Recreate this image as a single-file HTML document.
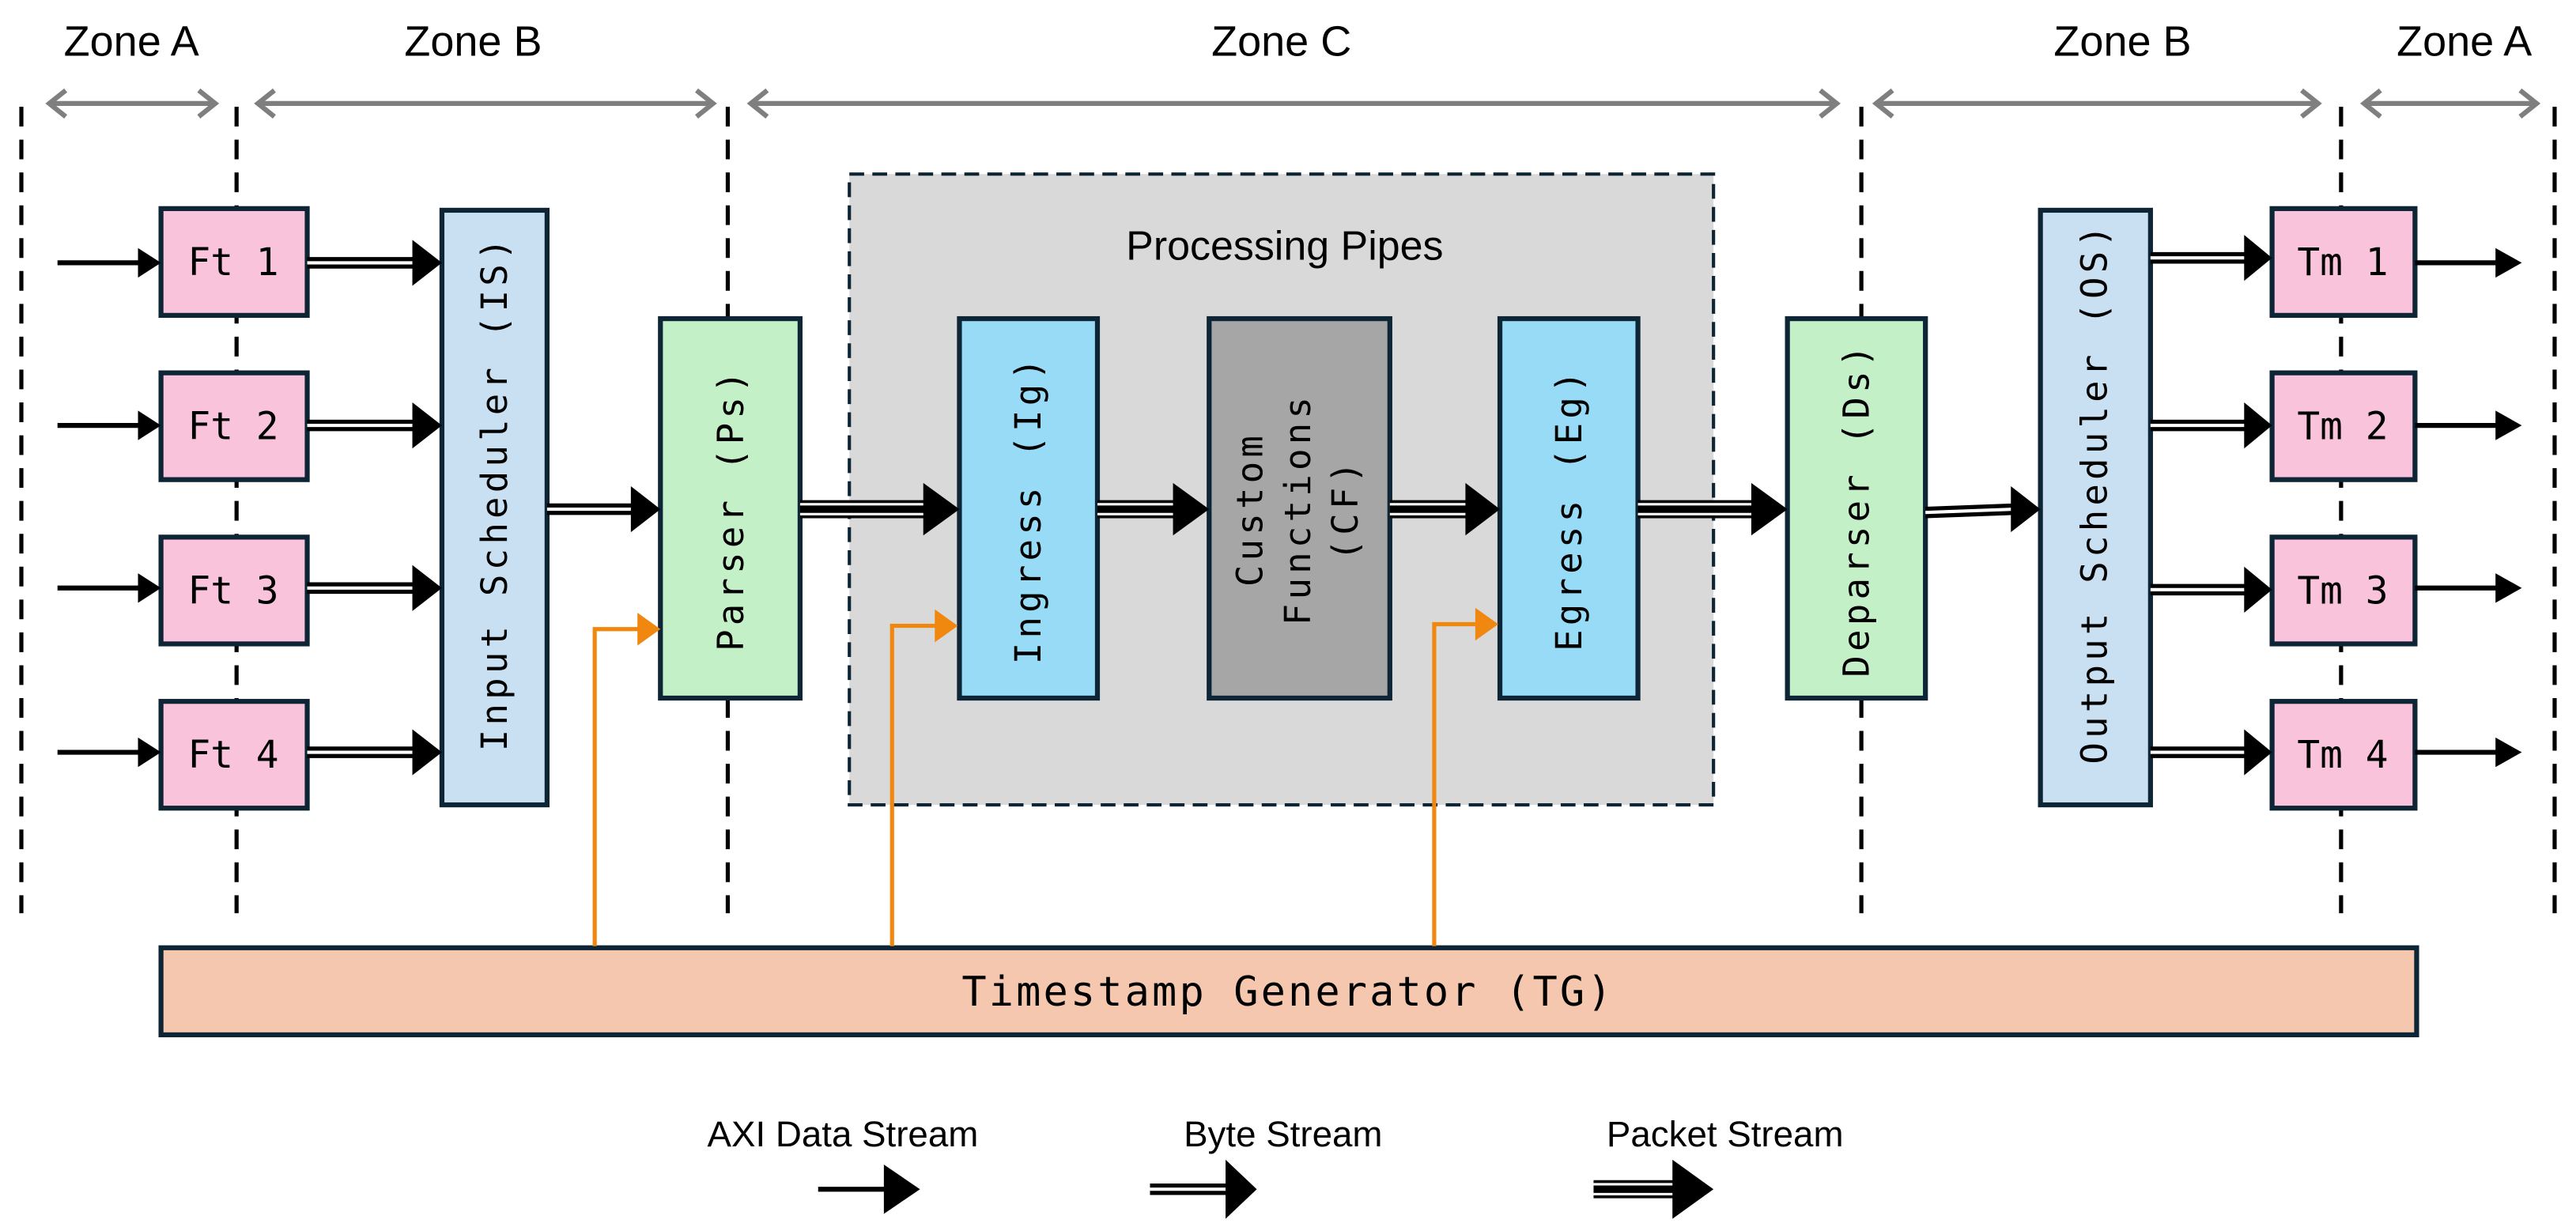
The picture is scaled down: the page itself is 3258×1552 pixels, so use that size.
<!DOCTYPE html>
<html><head><meta charset="utf-8"><style>
html,body{margin:0;padding:0;background:#fff;}
svg{display:block;}
.z{font-family:"Liberation Sans Narrow","Liberation Sans",sans-serif;font-size:26px;fill:#000;text-anchor:middle;}
.m{font-family:"DejaVu Sans Mono","Liberation Mono",monospace;font-size:23px;fill:#000;text-anchor:middle;dominant-baseline:central;}
.r{font-family:"DejaVu Sans Mono","Liberation Mono",monospace;font-size:22px;fill:#000;text-anchor:middle;dominant-baseline:central;letter-spacing:2.5px;}
.box{stroke:#0d2535;stroke-width:3;}
</style></head><body>
<svg width="3258" height="1552" viewBox="0 0 1568 747" preserveAspectRatio="none" xmlns="http://www.w3.org/2000/svg">
<text class="z" x="80" y="34">Zone A</text>
<text class="z" x="288" y="34">Zone B</text>
<text class="z" x="780" y="34">Zone C</text>
<text class="z" x="1292" y="34">Zone B</text>
<text class="z" x="1500" y="34">Zone A</text>
<g stroke="#7f7f7f" stroke-width="3" fill="none">
<line x1="30" y1="63" x2="131" y2="63"/><path d="M40,55 L30,63 L40,71 M121,55 L131,63 L121,71"/>
<line x1="157" y1="63" x2="434" y2="63"/><path d="M167,55 L157,63 L167,71 M424,55 L434,63 L424,71"/>
<line x1="457" y1="63" x2="1118" y2="63"/><path d="M467,55 L457,63 L467,71 M1108,55 L1118,63 L1108,71"/>
<line x1="1142" y1="63" x2="1411" y2="63"/><path d="M1152,55 L1142,63 L1152,71 M1401,55 L1411,63 L1401,71"/>
<line x1="1439" y1="63" x2="1544" y2="63"/><path d="M1449,55 L1439,63 L1449,71 M1534,55 L1544,63 L1534,71"/>
</g>
<g stroke="#000" stroke-width="2.5" stroke-dasharray="12,8">
<line x1="13" y1="65" x2="13" y2="556"/>
<line x1="144" y1="65" x2="144" y2="556"/>
<line x1="443" y1="65" x2="443" y2="556"/>
<line x1="1133" y1="65" x2="1133" y2="556"/>
<line x1="1425" y1="65" x2="1425" y2="556"/>
<line x1="1555" y1="65" x2="1555" y2="556"/>
</g>
<rect x="517" y="106" width="526" height="384" fill="#d9d9d9" stroke="#0d2535" stroke-width="2" stroke-dasharray="9,5"/>
<text class="z" x="782" y="158" style="font-family:'Liberation Sans',sans-serif;font-size:25px">Processing Pipes</text>
<g fill="#fac3dc" class="box">
<rect x="98" y="127" width="89" height="65"/><rect x="98" y="227" width="89" height="65"/>
<rect x="98" y="327" width="89" height="65"/><rect x="98" y="427" width="89" height="65"/>
<rect x="1383" y="127" width="87" height="65"/><rect x="1383" y="227" width="87" height="65"/>
<rect x="1383" y="327" width="87" height="65"/><rect x="1383" y="427" width="87" height="65"/>
</g>
<text class="m" x="142" y="160">Ft 1</text><text class="m" x="142" y="260">Ft 2</text>
<text class="m" x="142" y="360">Ft 3</text><text class="m" x="142" y="460">Ft 4</text>
<text class="m" x="1426" y="160">Tm 1</text><text class="m" x="1426" y="260">Tm 2</text>
<text class="m" x="1426" y="360">Tm 3</text><text class="m" x="1426" y="460">Tm 4</text>
<rect x="269" y="128" width="64" height="362" fill="#c9dff2" class="box"/>
<rect x="1242" y="128" width="67" height="362" fill="#c9dff2" class="box"/>
<rect x="402" y="194" width="85" height="231" fill="#c4f0c8" class="box"/>
<rect x="1088" y="194" width="84" height="231" fill="#c4f0c8" class="box"/>
<rect x="584" y="194" width="84" height="231" fill="#97dbf7" class="box"/>
<rect x="913" y="194" width="84" height="231" fill="#97dbf7" class="box"/>
<rect x="736" y="194" width="110" height="231" fill="#a6a6a6" class="box"/>
<text class="r" transform="translate(301,300) rotate(-90)">Input Scheduler (IS)</text>
<text class="r" transform="translate(1275,300) rotate(-90)">Output Scheduler (OS)</text>
<text class="r" transform="translate(445,310) rotate(-90)">Parser (Ps)</text>
<text class="r" transform="translate(1130,310) rotate(-90)">Deparser (Ds)</text>
<text class="r" transform="translate(626,310) rotate(-90)">Ingress (Ig)</text>
<text class="r" transform="translate(955,310) rotate(-90)">Egress (Eg)</text>
<text class="r" transform="translate(761,310) rotate(-90)">Custom</text>
<text class="r" transform="translate(790,310) rotate(-90)">Functions</text>
<text class="r" transform="translate(819,310) rotate(-90)">(CF)</text>
<rect x="98" y="577" width="1373" height="53" fill="#f5c7ae" class="box"/>
<text class="m" x="784" y="604" style="font-size:25px;letter-spacing:1.5px">Timestamp Generator (TG)</text>
<g stroke="#f0870f" stroke-width="2.5" fill="none">
<path d="M362,576 V383 H390"/><path d="M543,576 V381 H571"/><path d="M873,576 V380 H900"/>
</g>
<g fill="#f0870f">
<path d="M388,373 L402,383 L388,393Z"/><path d="M569,371 L583,381 L569,391Z"/><path d="M898,370 L912,380 L898,390Z"/>
</g>
<g stroke="#000" stroke-width="3">
<line x1="35" y1="160" x2="86" y2="160"/><line x1="35" y1="259" x2="86" y2="259"/>
<line x1="35" y1="358" x2="86" y2="358"/><line x1="35" y1="458" x2="86" y2="458"/>
<line x1="1470" y1="160" x2="1522" y2="160"/><line x1="1470" y1="259" x2="1522" y2="259"/>
<line x1="1470" y1="358" x2="1522" y2="358"/><line x1="1470" y1="458" x2="1522" y2="458"/>
<line x1="498" y1="724" x2="540" y2="724"/>
</g>
<g fill="#000">
<path d="M84,151 L98,160 L84,169Z"/><path d="M84,250 L98,259 L84,268Z"/>
<path d="M84,349 L98,358 L84,367Z"/><path d="M84,449 L98,458 L84,467Z"/>
<path d="M1519,151 L1535,160 L1519,169Z"/><path d="M1519,250 L1535,259 L1519,268Z"/>
<path d="M1519,349 L1535,358 L1519,367Z"/><path d="M1519,449 L1535,458 L1519,467Z"/>
<path d="M538,709 L560,724 L538,739Z"/>
</g>
<g stroke="#000" stroke-width="7">
<line x1="187" y1="160" x2="254" y2="160"/><line x1="187" y1="259" x2="254" y2="259"/>
<line x1="187" y1="358" x2="254" y2="358"/><line x1="187" y1="458" x2="254" y2="458"/>
<line x1="333" y1="310" x2="388" y2="310"/>
<line x1="1172" y1="312" x2="1226" y2="310"/>
<line x1="1309" y1="157" x2="1368" y2="157"/><line x1="1309" y1="259" x2="1368" y2="259"/>
<line x1="1309" y1="359" x2="1368" y2="359"/><line x1="1309" y1="458" x2="1368" y2="458"/>
<line x1="700" y1="724" x2="748" y2="724"/>
</g>
<g stroke="#fff" stroke-width="2">
<line x1="187" y1="160" x2="254" y2="160"/><line x1="187" y1="259" x2="254" y2="259"/>
<line x1="187" y1="358" x2="254" y2="358"/><line x1="187" y1="458" x2="254" y2="458"/>
<line x1="333" y1="310" x2="388" y2="310"/>
<line x1="1172" y1="312" x2="1226" y2="310"/>
<line x1="1309" y1="157" x2="1368" y2="157"/><line x1="1309" y1="259" x2="1368" y2="259"/>
<line x1="1309" y1="359" x2="1368" y2="359"/><line x1="1309" y1="458" x2="1368" y2="458"/>
<line x1="700" y1="724" x2="748" y2="724"/>
</g>
<g fill="#000">
<path d="M251,146 L269,160 L251,174Z"/><path d="M251,245 L269,259 L251,273Z"/>
<path d="M251,344 L269,358 L251,372Z"/><path d="M251,444 L269,458 L251,472Z"/>
<path d="M384,296 L402,310 L384,324Z"/>
<path d="M1224,296 L1242,310 L1224,324Z"/>
<path d="M1366,143 L1383,157 L1366,171Z"/><path d="M1366,245 L1383,259 L1366,273Z"/>
<path d="M1366,345 L1383,359 L1366,373Z"/><path d="M1366,444 L1383,458 L1366,472Z"/>
<path d="M746,706 L765,724 L746,742Z"/>
</g>
<g stroke="#000" stroke-width="11">
<line x1="487" y1="310" x2="566" y2="310"/><line x1="668" y1="310" x2="718" y2="310"/>
<line x1="846" y1="310" x2="896" y2="310"/><line x1="997" y1="310" x2="1070" y2="310"/>
<line x1="970" y1="724" x2="1020" y2="724"/>
</g>
<g stroke="#fff" stroke-width="1.5">
<line x1="487" y1="307" x2="566" y2="307"/><line x1="487" y1="313" x2="566" y2="313"/>
<line x1="668" y1="307" x2="718" y2="307"/><line x1="668" y1="313" x2="718" y2="313"/>
<line x1="846" y1="307" x2="896" y2="307"/><line x1="846" y1="313" x2="896" y2="313"/>
<line x1="997" y1="307" x2="1070" y2="307"/><line x1="997" y1="313" x2="1070" y2="313"/>
<line x1="970" y1="721" x2="1020" y2="721"/><line x1="970" y1="727" x2="1020" y2="727"/>
</g>
<g fill="#000">
<path d="M562,294 L584,310 L562,326Z"/><path d="M714,294 L736,310 L714,326Z"/>
<path d="M892,294 L913,310 L892,326Z"/><path d="M1066,294 L1088,310 L1066,326Z"/>
<path d="M1018,706 L1043,724 L1018,742Z"/>
</g>
<text class="z" x="513" y="698" style="font-size:22px">AXI Data Stream</text>
<text class="z" x="781" y="698" style="font-size:22px">Byte Stream</text>
<text class="z" x="1050" y="698" style="font-size:22px">Packet Stream</text>
</svg>
</body></html>
